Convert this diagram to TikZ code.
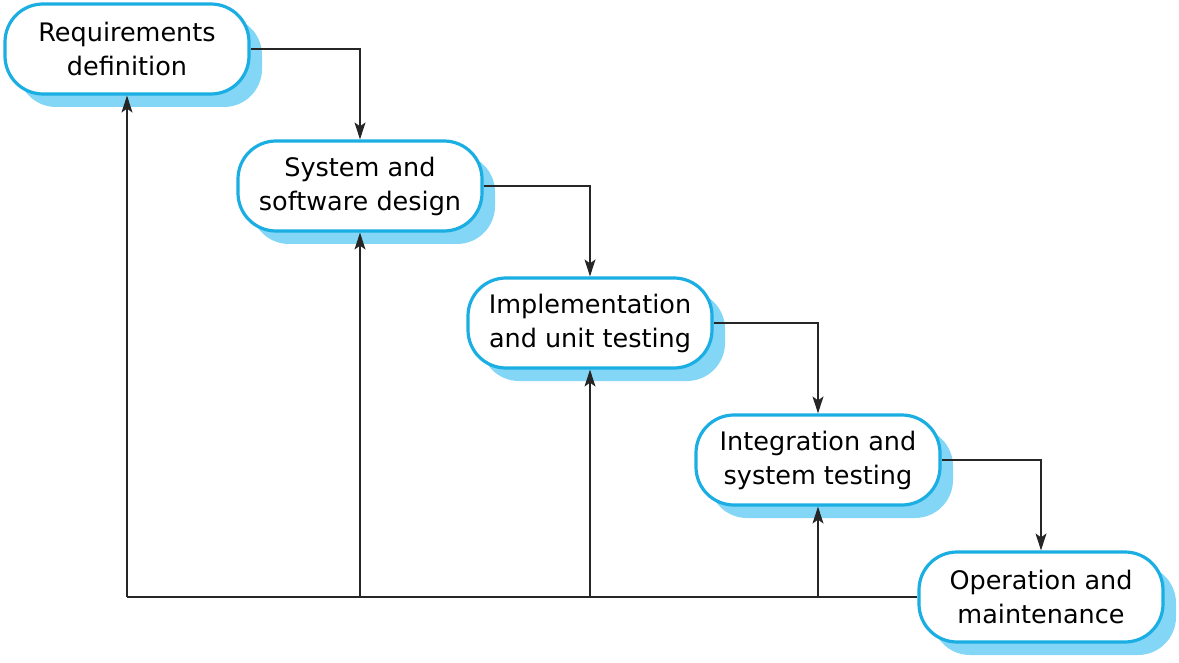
\documentclass[tikz,border=0pt]{standalone}
\usepackage{fontspec}
\setmainfont{DejaVu Sans}
\usetikzlibrary{arrows.meta,shadows}
\definecolor{edgeblue}{HTML}{1AAEE3}
\definecolor{shadeblue}{HTML}{84D6F6}
\tikzset{
  phase/.style={draw=edgeblue, line width=3.2pt, fill=white, rounded corners=38pt,
    minimum width=244pt, minimum height=90pt, align=center, inner sep=0pt,
    font=\fontsize{25.5}{34}\selectfont,
    drop shadow={shadow xshift=13pt, shadow yshift=-13pt, fill=shadeblue, opacity=1, draw=none}},
  link/.style={draw=black!85, line width=1.1pt},
  arr/.style={link, -{Stealth[length=17pt,width=11pt,inset=4pt]}}
}
\begin{document}
\begin{tikzpicture}[x=1pt,y=-1pt]
\useasboundingbox (0,0) rectangle (1179,663);
\node[phase] (r) at (127,49) {Requirements\\definition};
\node[phase] (s) at (360,186) {System and\\software design};
\node[phase] (i) at (590,323) {Implementation\\and unit testing};
\node[phase] (t) at (818,460) {Integration and\\system testing};
\node[phase] (o) at (1041,597) {Operation and\\maintenance};
\draw[arr] (r.east) -| (s.north);
\draw[arr] (s.east) -| (i.north);
\draw[arr] (i.east) -| (t.north);
\draw[arr] (t.east) -| (o.north);
\coordinate (c1) at (r.south |- o.west);
\coordinate (c2) at (s.south |- o.west);
\coordinate (c3) at (i.south |- o.west);
\coordinate (c4) at (t.south |- o.west);
\draw[link] (o.west) -- (c1);
\draw[arr] (c1) -- (r.south);
\draw[arr] (c2) -- (s.south);
\draw[arr] (c3) -- (i.south);
\draw[arr] (c4) -- (t.south);
\end{tikzpicture}
\end{document}
